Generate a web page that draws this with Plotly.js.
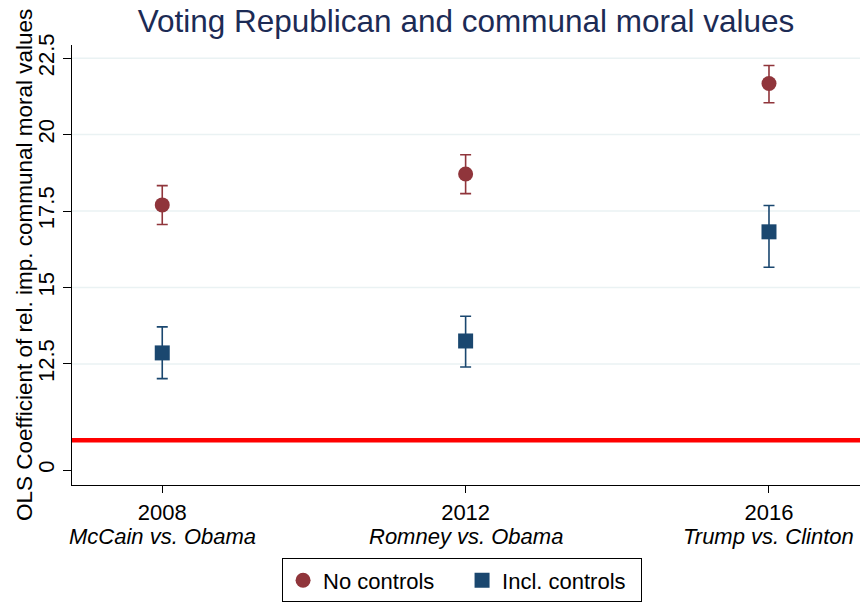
<!DOCTYPE html>
<html>
<head>
<meta charset="utf-8">
<script src="https://cdn.plot.ly/plotly-3.0.1.min.js"></script>
<style>
  html, body { margin: 0; padding: 0; background: #ffffff; }
  #chart { width: 861px; height: 604px; }
</style>
</head>
<body>
<div id="chart"></div>
<script>
// Election years and the matchups shown under each year
const years = [2008, 2012, 2016];
const matchups = ["McCain vs. Obama", "Romney vs. Obama", "Trump vs. Clinton"];

// Coefficient estimates with 95% confidence bounds, without controls
const noCtrlEst = [17.70, 18.71, 21.67];
const noCtrlLow = [17.06, 18.07, 21.04];
const noCtrlHigh = [18.33, 19.34, 22.26];

// Coefficient estimates with 95% confidence bounds, including controls
const ctrlEst = [12.86, 13.25, 16.82];
const ctrlLow = [12.02, 12.40, 15.66];
const ctrlHigh = [13.71, 14.06, 17.68];

// Y axis ticks (the lowest tick marks the broken-axis zero)
const yTickVals = [9.03, 12.5, 15, 17.5, 20, 22.5];
const yTickText = ["0", "12.5", "15", "17.5", "20", "22.5"];
const gridVals = [12.5, 15, 17.5, 20, 22.5];

// Reference line
const refLine = 10;

const yTitle = "OLS Coefficient of rel. imp. communal moral values";
const font = "Liberation Sans, Arial, Helvetica, sans-serif";
const fs = 22;

function errOpts(est, low, high, color) {
  return {
    type: "data",
    symmetric: false,
    array: high.map((h, i) => h - est[i]),
    arrayminus: est.map((e, i) => e - low[i]),
    color: color,
    thickness: 1.6,
    width: 5.5
  };
}

const traces = [
  {
    x: years,
    y: noCtrlEst,
    mode: "markers",
    type: "scatter",
    name: "No controls",
    marker: { symbol: "circle", size: 15, color: "#90353b" },
    error_y: errOpts(noCtrlEst, noCtrlLow, noCtrlHigh, "#90353b")
  },
  {
    x: years,
    y: ctrlEst,
    mode: "markers",
    type: "scatter",
    name: "Incl. controls",
    marker: { symbol: "square", size: 15, color: "#1a476f" },
    error_y: errOpts(ctrlEst, ctrlLow, ctrlHigh, "#1a476f")
  }
];

const shapes = gridVals.map(v => ({
  type: "line", xref: "paper", x0: 0, x1: 1, yref: "y", y0: v, y1: v,
  line: { color: "#eaf2f3", width: 1.5 }, layer: "below"
}));
shapes.push({
  type: "line", xref: "paper", x0: 0, x1: 1, yref: "y", y0: refLine, y1: refLine,
  line: { color: "#ff0000", width: 4.5 }, layer: "below"
});

// Italic matchup line beneath each year label
const annotations = years.map((yr, i) => ({
  x: yr, xref: "x",
  y: -0.118, yref: "paper",
  yanchor: "middle", xanchor: "center",
  text: "<i>" + matchups[i] + "</i>",
  showarrow: false,
  font: { family: font, size: fs, color: "#000000" }
}));

// Vertical axis title
annotations.push({
  x: -0.061, xref: "paper", xanchor: "center",
  y: 0.5, yref: "paper", yanchor: "middle",
  text: yTitle,
  textangle: -90,
  showarrow: false,
  font: { family: font, size: 22.5, color: "#000000" }
});

const layout = {
  width: 861,
  height: 604,
  margin: { l: 72, r: 1, t: 45, b: 116 },
  paper_bgcolor: "#ffffff",
  plot_bgcolor: "#ffffff",
  font: { family: font, size: fs, color: "#000000" },
  title: {
    text: "Voting Republican and communal moral values",
    font: { family: font, size: 31.5, color: "#1c2b55" },
    x: 0.5, xanchor: "center", xref: "paper",
    y: 0.965, yanchor: "middle"
  },
  xaxis: {
    range: [2006.81, 2017.2],
    tickvals: years,
    ticktext: years.map(String),
    ticks: "outside",
    ticklen: 7,
    tickwidth: 1,
    tickcolor: "#000000",
    showline: true,
    linecolor: "#000000",
    linewidth: 1.2,
    showgrid: false,
    zeroline: false,
    tickfont: { family: font, size: fs, color: "#000000" }
  },
  yaxis: {
    range: [8.54, 22.93],
    tickvals: yTickVals,
    ticktext: yTickText,
    tickangle: -90,
    ticks: "outside",
    ticklen: 8,
    tickwidth: 1,
    tickcolor: "#000000",
    showline: true,
    linecolor: "#000000",
    linewidth: 1.2,
    showgrid: false,
    zeroline: false,
    tickfont: { family: font, size: fs, color: "#000000" }
  },
  showlegend: true,
  legend: {
    orientation: "h",
    x: 0.495, xanchor: "center",
    y: -0.167, yanchor: "top",
    entrywidth: 134,
    bordercolor: "#000000",
    borderwidth: 1,
    bgcolor: "#ffffff",
    font: { family: font, size: fs, color: "#000000" }
  },
  annotations: annotations,
  shapes: shapes
};

Plotly.newPlot("chart", traces, layout, { displayModeBar: false, staticPlot: true });
</script>
</body>
</html>
